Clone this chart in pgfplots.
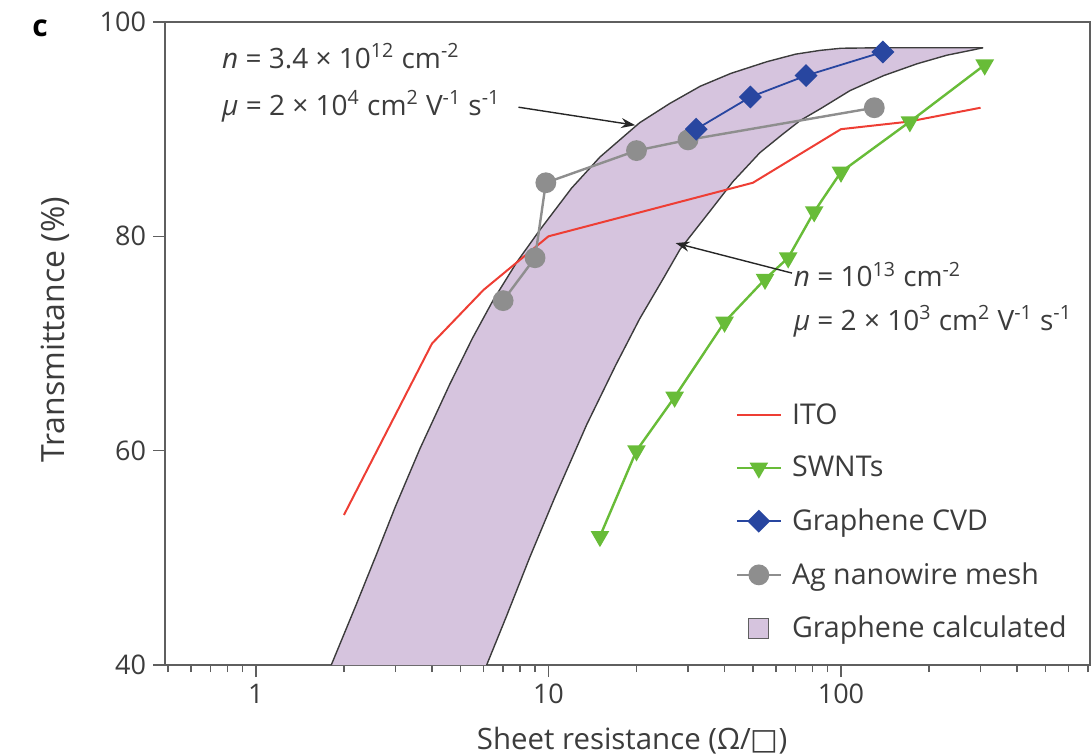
\documentclass[border=0pt]{standalone}
\usepackage{fontspec}
\setmainfont{Open Sans}
\newfontfamily\dejavu{DejaVu Sans}
\usepackage{pgfplots}
\pgfplotsset{compat=1.18}
\usetikzlibrary{arrows.meta}
\definecolor{itored}{RGB}{238,62,52}
\definecolor{swgreen}{RGB}{104,188,56}
\definecolor{cvdblue}{RGB}{40,70,160}
\definecolor{aggray}{RGB}{142,142,142}
\definecolor{bandfill}{RGB}{214,196,222}
\definecolor{curvecol}{RGB}{60,60,60}
\definecolor{axisgray}{RGB}{95,95,95}
\definecolor{textgray}{RGB}{60,60,60}
\newcommand{\fs}{\fontsize{13.5}{16}\selectfont}
\newcommand{\fa}{\fontsize{14}{16}\selectfont}
\newcommand{\fl}{\fontsize{14.3}{16}\selectfont}
\begin{document}
\begin{tikzpicture}
\begin{axis}[
  at={(0pt,0pt)}, anchor=south west,
  scale only axis, width=462.5pt, height=321.5pt,
  xmode=log, xmin=0.489, xmax=710, ymin=40, ymax=100,
  log ticks with fixed point,
  ytick={40,60,80,100},
  tick align=outside, tick pos=left,
  major tick length=6pt, minor tick length=3.5pt,
  axis line style={draw=axisgray, line width=0.8pt},
  every tick/.style={axisgray, line width=0.8pt},
  ticklabel style={font=\fs, text=textgray},
  /pgf/number format/assume math mode=true,
  xlabel={Sheet resistance (Ω/{\dejavu □})},
  ylabel={Transmittance (\%)},
  xlabel style={font=\fontsize{14.7}{16}\selectfont, text=textgray, at={(axis description cs:0.505,-0.117)}, anchor=center},
  ylabel style={font=\fontsize{16}{18}\selectfont, text=textgray, at={(axis description cs:-0.119,0.521)}, anchor=center},
  legend style={draw=none, fill=none, at={(axis description cs:0.61,0.42)}, anchor=north west,
    font=\fl, text=textgray, row sep=10.5pt, cells={anchor=west}},
  legend image code/.code={\draw[mark repeat=2,mark phase=2,#1] plot coordinates {(0pt,0pt) (11pt,0pt) (22pt,0pt)}; \path (0pt,0pt) (25pt,0pt);},
]
% calculated graphene band (upper curve, then lower curve reversed)
\addplot[fill=bandfill, draw=none, forget plot] coordinates {
(1.81,40) (2.2,45.6) (2.59,50.4) (3.0,54.8) (3.64,60.2) (4.6,66.2) (5.5,70.5) (6.46,74.0) (7.8,77.6) (9.35,80.6) (12,84.5) (15.0,87.4) (20.5,90.6) (26,92.4) (33,94.0) (42,95.2) (55.9,96.3) (70,97.0) (84.8,97.35) (100,97.55) (139,97.6) (306,97.6)
(283,97.4) (230,96.9) (182,96.1) (140,95.0) (107.4,93.6) (85,91.9) (72.5,90.8) (63,89.5) (52.8,87.8) (42.7,85.1) (36.5,82.7) (28.2,78.8) (24.5,75.9) (20.5,72.3) (17,68.0) (13.5,62.4) (10.5,55.6) (8.65,50.1) (7.2,44.6) (6.15,40)} -- cycle;
\addplot[curvecol, line width=0.7pt, forget plot] coordinates {
(1.81,40) (2.2,45.6) (2.59,50.4) (3.0,54.8) (3.64,60.2) (4.6,66.2) (5.5,70.5) (6.46,74.0) (7.8,77.6) (9.35,80.6) (12,84.5) (15.0,87.4) (20.5,90.6) (26,92.4) (33,94.0) (42,95.2) (55.9,96.3) (70,97.0) (84.8,97.35) (100,97.55) (139,97.6) (306,97.6)};
\addplot[curvecol, line width=0.7pt, forget plot] coordinates {
(6.15,40) (7.2,44.6) (8.65,50.1) (10.5,55.6) (13.5,62.4) (17,68.0) (20.5,72.3) (24.5,75.9) (28.2,78.8) (36.5,82.7) (42.7,85.1) (52.8,87.8) (63,89.5) (72.5,90.8) (85,91.9) (107.4,93.6) (140,95.0) (182,96.1) (230,96.9) (283,97.4) (306,97.6)};
% ITO
\addplot[itored, line width=1pt, mark=none] coordinates {
(2,54) (4,70) (6,75) (10,80) (50,85) (100,90) (170,90.7) (300,92)};
\addlegendentry{ITO}
% SWNTs
\addplot[swgreen, line width=1.2pt, mark=triangle*, mark size=4.2pt, mark options={rotate=180, fill=swgreen, draw=swgreen}] coordinates {
(15,52) (20,60) (27,65) (40,72) (55,76) (66,78) (81,82.3) (100,86) (172,90.7) (310,96)};
\addlegendentry{SWNTs}
% Ag nanowire (drawn before CVD)
\addplot[aggray, line width=1.2pt, mark=*, mark size=4.6pt, mark options={fill=aggray, draw=aggray}, forget plot] coordinates {
(7,74) (9,78) (9.8,85) (20,88) (30,89) (130,92)};
% Graphene CVD
\addplot[cvdblue, line width=0.9pt, mark=square*, mark size=3.6pt, mark options={rotate=45, fill=cvdblue, draw=cvdblue}] coordinates {
(32,90) (49,93) (76,95) (139,97.2)};
\addlegendentry{Graphene CVD}
\addlegendimage{aggray, line width=1.2pt, mark=*, mark size=4.6pt, mark options={fill=aggray, draw=aggray}}
\addlegendentry{Ag nanowire mesh}
\addlegendimage{legend image code/.code={\draw[fill=bandfill, draw=axisgray, line width=0.6pt] (6pt,-5pt) rectangle (16pt,5pt); \path (0pt,0pt) (25pt,0pt);}}
\addlegendentry{Graphene calculated}
% annotations
\node[anchor=base west, inner sep=0pt, font=\fa, text=textgray] at (axis cs:0.765,95.7) {\textit{n} = 3.4 × 10\textsuperscript{12} cm\textsuperscript{-2}};
\node[anchor=base west, inner sep=0pt, font=\fa, text=textgray] at (axis cs:0.765,91.3) {\textit{μ} = 2 × 10\textsuperscript{4} cm\textsuperscript{2} V\textsuperscript{-1} s\textsuperscript{-1}};
\draw[black!85, line width=0.7pt, -{Stealth[length=7pt,width=5pt]}] (axis cs:7.9,92.05) -- (axis cs:19.8,90.37);
\node[anchor=base west, inner sep=0pt, font=\fa, text=textgray] at (axis cs:68.8,75.3) {\textit{n} = 10\textsuperscript{13} cm\textsuperscript{-2}};
\node[anchor=base west, inner sep=0pt, font=\fa, text=textgray] at (axis cs:68.8,71.25) {\textit{μ} = 2 × 10\textsuperscript{3} cm\textsuperscript{2} V\textsuperscript{-1} s\textsuperscript{-1}};
\draw[black!85, line width=0.7pt, -{Stealth[length=7pt,width=5pt]}] (axis cs:68.0,76.57) -- (axis cs:27.2,79.37);
\end{axis}
\node[font=\bfseries\fontsize{15}{18}\selectfont, text=black] at (-62.5pt,318.5pt) {c};
\pgfresetboundingbox
\path[use as bounding box] (-82.5pt,-45pt) rectangle (463.5pt,332.5pt);
\end{tikzpicture}
\end{document}
